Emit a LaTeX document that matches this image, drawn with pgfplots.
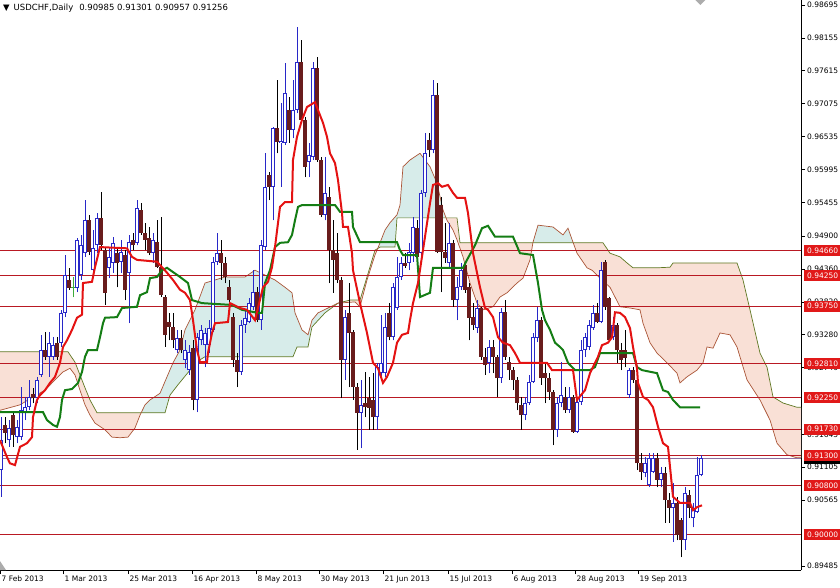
\documentclass[border=0pt]{standalone}
\usepackage{pgfplots}
\pgfplotsset{compat=1.18}
\usepackage{pgfplotstable}
\usepgfplotslibrary{fillbetween}
\usepackage{fontspec}
\setmainfont{DejaVu Sans}
\definecolor{bullc}{RGB}{40,40,200}
\definecolor{bearc}{RGB}{105,28,28}
\definecolor{tenkc}{RGB}{228,18,18}
\definecolor{kijc}{RGB}{20,125,20}
\definecolor{lvlc}{RGB}{185,25,35}
\definecolor{boxc}{RGB}{225,25,25}
\definecolor{cloudor}{RGB}{249,224,214}
\definecolor{cloudte}{RGB}{215,236,234}
\definecolor{spanbc}{RGB}{95,120,35}
\definecolor{spanac}{RGB}{170,85,55}
\definecolor{bidc}{RGB}{140,110,160}
\definecolor{dojic}{RGB}{60,170,60}

\newcommand{\lb}[2]{{\setlength{\fboxsep}{0pt}\colorbox{#1}{\rule[-2.7bp]{0pt}{11bp}\hspace{3.5bp}\makebox[34bp][l]{\textcolor{white}{#2}}}}}

% bull candles: bar index, open, high, low, close
\pgfplotstableread{
i o h l c
0 0.9106 0.9193 0.9062 0.9155
2 0.9155 0.9188 0.9144 0.9175
4 0.9160 0.9188 0.9150 0.9177
5 0.9160 0.9242 0.9155 0.9204
6 0.9201 0.9226 0.9188 0.9209
7 0.9209 0.9254 0.9204 0.9226
9 0.9224 0.9259 0.9216 0.9254
10 0.9262 0.9328 0.9259 0.9303
12 0.9292 0.9333 0.9259 0.9315
13 0.9292 0.9324 0.9287 0.9311
15 0.9315 0.9369 0.9308 0.9364
16 0.9364 0.9459 0.9357 0.9426
19 0.9405 0.9487 0.9398 0.9484
20 0.9426 0.9492 0.9418 0.9475
21 0.9462 0.9549 0.9456 0.9516
23 0.9434 0.9500 0.9426 0.9470
24 0.9475 0.9528 0.9462 0.9520
27 0.9438 0.9472 0.9421 0.9456
28 0.9446 0.9489 0.9430 0.9479
30 0.9448 0.9484 0.9430 0.9464
32 0.9430 0.9492 0.9347 0.9480
34 0.9479 0.9549 0.9475 0.9536
38 0.9462 0.9495 0.9446 0.9484
44 0.9303 0.9336 0.9298 0.9323
46 0.9287 0.9319 0.9273 0.9303
47 0.9270 0.9311 0.9262 0.9300
49 0.9221 0.9331 0.9201 0.9324
50 0.9319 0.9344 0.9311 0.9336
51 0.9311 0.9339 0.9275 0.9331
52 0.9311 0.9352 0.9298 0.9339
53 0.9336 0.9456 0.9333 0.9448
54 0.9448 0.9495 0.9443 0.9462
60 0.9267 0.9352 0.9262 0.9344
61 0.9344 0.9369 0.9331 0.9356
62 0.9349 0.9388 0.9347 0.9380
63 0.9374 0.9434 0.9369 0.9398
65 0.9352 0.9484 0.9336 0.9475
66 0.9472 0.9626 0.9467 0.9571
68 0.9571 0.9669 0.9516 0.9668
70 0.9643 0.9709 0.9571 0.9646
71 0.9643 0.9774 0.9640 0.9725
73 0.9664 0.9746 0.9651 0.9697
74 0.9697 0.9833 0.9692 0.9776
77 0.9612 0.9643 0.9587 0.9623
78 0.9620 0.9776 0.9615 0.9766
81 0.9525 0.9620 0.9516 0.9561
86 0.9287 0.9369 0.9254 0.9357
90 0.9200 0.9254 0.9142 0.9213
94 0.9193 0.9282 0.9172 0.9275
95 0.9265 0.9361 0.9259 0.9282
96 0.9265 0.9364 0.9259 0.9341
98 0.9324 0.9413 0.9319 0.9406
99 0.9372 0.9456 0.9369 0.9423
100 0.9423 0.9456 0.9418 0.9446
102 0.9446 0.9479 0.9434 0.9464
103 0.9462 0.9521 0.9448 0.9505
105 0.9462 0.9566 0.9456 0.9561
106 0.9561 0.9659 0.9554 0.9626
108 0.9631 0.9746 0.9626 0.9722
112 0.9446 0.9512 0.9439 0.9479
114 0.9385 0.9423 0.9352 0.9406
115 0.9406 0.9446 0.9402 0.9434
119 0.9339 0.9385 0.9331 0.9372
122 0.9282 0.9319 0.9265 0.9308
125 0.9257 0.9372 0.9249 0.9365
131 0.9196 0.9226 0.9188 0.9216
132 0.9216 0.9262 0.9213 0.9250
133 0.9250 0.9331 0.9249 0.9324
134 0.9323 0.9374 0.9316 0.9352
139 0.9172 0.9226 0.9160 0.9216
140 0.9216 0.9283 0.9209 0.9229
142 0.9204 0.9242 0.9200 0.9226
144 0.9168 0.9226 0.9167 0.9218
145 0.9218 0.9319 0.9213 0.9303
146 0.9303 0.9331 0.9292 0.9324
147 0.9308 0.9352 0.9303 0.9344
148 0.9339 0.9377 0.9336 0.9364
150 0.9349 0.9448 0.9347 0.9434
153 0.9324 0.9357 0.9319 0.9344
157 0.9229 0.9273 0.9224 0.9270
161 0.9101 0.9127 0.9094 0.9117
162 0.9081 0.9134 0.9078 0.9126
163 0.9103 0.9134 0.9101 0.9126
165 0.9090 0.9111 0.9078 0.9101
168 0.9044 0.9085 0.8988 0.9052
171 0.8991 0.9078 0.8975 0.9068
173 0.9027 0.9052 0.9012 0.9044
174 0.9037 0.9127 0.9035 0.9098
175 0.90985 0.91301 0.90957 0.91256
}\bulltab

% bear candles
\pgfplotstableread{
i o h l c
1 0.9180 0.9193 0.9150 0.9167
3 0.9196 0.9200 0.9144 0.9163
8 0.9231 0.9241 0.9216 0.9224
11 0.9303 0.9333 0.9287 0.9292
14 0.9315 0.9324 0.9287 0.9292
17 0.9418 0.9438 0.9402 0.9405
22 0.9516 0.9525 0.9459 0.9464
25 0.9520 0.9562 0.9467 0.9475
26 0.9467 0.9470 0.9377 0.9397
29 0.9462 0.9472 0.9406 0.9446
31 0.9459 0.9467 0.9385 0.9402
33 0.9484 0.9495 0.9467 0.9475
35 0.9533 0.9544 0.9492 0.9495
36 0.9495 0.9512 0.9467 0.9484
37 0.9487 0.9505 0.9459 0.9462
39 0.9480 0.9516 0.9438 0.9439
40 0.9439 0.9521 0.9390 0.9393
41 0.9390 0.9393 0.9308 0.9328
42 0.9349 0.9364 0.9319 0.9341
43 0.9341 0.9364 0.9306 0.9319
45 0.9323 0.9336 0.9298 0.9303
48 0.9306 0.9319 0.9204 0.9221
55 0.9462 0.9484 0.9418 0.9446
56 0.9446 0.9456 0.9413 0.9423
57 0.9406 0.9418 0.9369 0.9385
58 0.9357 0.9364 0.9275 0.9287
59 0.9287 0.9298 0.9242 0.9267
64 0.9398 0.9406 0.9349 0.9352
67 0.9590 0.9595 0.9549 0.9571
69 0.9668 0.9746 0.9626 0.9645
72 0.9697 0.9718 0.9643 0.9664
75 0.9776 0.9812 0.9677 0.9681
76 0.9681 0.9686 0.9587 0.9604
79 0.9766 0.9784 0.9612 0.9615
80 0.9615 0.9620 0.9521 0.9525
82 0.9554 0.9571 0.9413 0.9467
83 0.9467 0.9516 0.9397 0.9451
84 0.9462 0.9495 0.9413 0.9418
85 0.9418 0.9423 0.9224 0.9287
87 0.9364 0.9413 0.9242 0.9331
88 0.9333 0.9336 0.9221 0.9242
89 0.9242 0.9249 0.9139 0.9200
91 0.9216 0.9267 0.9193 0.9209
92 0.9224 0.9259 0.9172 0.9208
93 0.9221 0.9265 0.9172 0.9193
97 0.9364 0.9380 0.9319 0.9324
101 0.9446 0.9462 0.9438 0.9441
104 0.9503 0.9516 0.9454 0.9456
107 0.9648 0.9659 0.9620 0.9631
109 0.9722 0.9741 0.9462 0.9464
110 0.9541 0.9554 0.9398 0.9464
111 0.9464 0.9512 0.9446 0.9454
113 0.9479 0.9484 0.9374 0.9385
116 0.9443 0.9446 0.9397 0.9402
117 0.9406 0.9413 0.9319 0.9356
118 0.9357 0.9380 0.9336 0.9344
120 0.9372 0.9374 0.9287 0.9292
121 0.9292 0.9306 0.9262 0.9278
123 0.9308 0.9319 0.9265 0.9292
124 0.9292 0.9295 0.9226 0.9257
126 0.9365 0.9385 0.9287 0.9292
127 0.9283 0.9292 0.9254 0.9270
128 0.9270 0.9275 0.9237 0.9254
129 0.9254 0.9259 0.9204 0.9216
130 0.9213 0.9226 0.9172 0.9196
135 0.9352 0.9357 0.9246 0.9257
136 0.9265 0.9282 0.9216 0.9257
137 0.9257 0.9265 0.9221 0.9234
138 0.9234 0.9237 0.9147 0.9172
141 0.9226 0.9242 0.9200 0.9204
143 0.9226 0.9229 0.9167 0.9168
149 0.9364 0.9380 0.9347 0.9349
151 0.9448 0.9451 0.9369 0.9374
152 0.9388 0.9390 0.9316 0.9319
154 0.9344 0.9347 0.9282 0.9303
155 0.9303 0.9315 0.9270 0.9287
156 0.9303 0.9336 0.9275 0.9290
158 0.9270 0.9275 0.9249 0.9254
159 0.9254 0.9259 0.9106 0.9117
160 0.9117 0.9134 0.9090 0.9103
164 0.9126 0.9134 0.9078 0.9090
166 0.9101 0.9111 0.9019 0.9057
167 0.9057 0.9068 0.9019 0.9044
169 0.9052 0.9062 0.8991 0.8999
170 0.9024 0.9027 0.8963 0.8991
172 0.9065 0.9073 0.9027 0.9044
}\beartab

% doji
\pgfplotstableread{
i o h l c
18 0.9405 0.9423 0.9390 0.9406
}\dojitab

\pgfplotsset{candle/.style={only marks, mark=none, mark size=0pt, mark options={draw=none, fill=none}, forget plot}}

\begin{document}
\begin{tikzpicture}
\begin{axis}[
  at={(0,0)}, anchor=north west,
  scale only axis, width=801bp, height=570bp,
  xmin=-0.25, xmax=200, ymin=0.89418, ymax=0.98777,
  axis x line*=bottom, axis y line*=right,
  axis line style={-, black, line width=0.8bp},
  tick align=outside, major tick length=4bp,
  tick style={black, line width=0.6bp},
  tick label style={font=\fontsize{7.5bp}{9bp}\selectfont},
  xtick={-0.25,15.5,31.75,47.75,63.75,79.5,95.5,111.75,127.75,143.5,159.25},
  xticklabels={7 Feb 2013,1 Mar 2013,25 Mar 2013,16 Apr 2013,8 May 2013,30 May 2013,21 Jun 2013,15 Jul 2013,6 Aug 2013,28 Aug 2013,19 Sep 2013},
  xticklabel style={anchor=north west, inner sep=0pt, xshift=1.5bp, yshift=-2bp},
  ytick={0.98695,0.98155,0.97615,0.97075,0.96535,0.95995,0.95455,0.94900,0.94360,0.93820,0.93280,0.92740,0.91645,0.91105,0.90565,0.89485},
  yticklabels={0.98695,0.98155,0.97615,0.97075,0.96535,0.95995,0.95455,0.94900,0.94360,0.93820,0.93280,0.92740,0.91645,0.91105,0.90565,0.89485},
  yticklabel style={anchor=west, inner sep=0pt, xshift=2bp},
  extra y ticks={0.91256,0.9466,0.9425,0.9375,0.9281,0.9225,0.9173,0.9130,0.9080,0.9000},
  extra y tick labels={\lb{black}{\phantom{0.91256}},\lb{boxc}{0.94660},\lb{boxc}{0.94250},\lb{boxc}{0.93750},\lb{boxc}{0.92810},\lb{boxc}{0.92250},\lb{boxc}{0.91730},\lb{boxc}{0.91300},\lb{boxc}{0.90800},\lb{boxc}{0.90000}},
  extra y tick style={major tick length=0pt, yticklabel style={anchor=west, inner sep=0pt, xshift=0.5bp}},
  title={\fontsize{8.5bp}{10bp}\selectfont ▼\hspace{4bp}USDCHF,Daily\hspace{6bp}0.90985 0.91301 0.90957 0.91256},
  title style={at={(axis description cs:0,1)}, anchor=north west, inner sep=0pt, xshift=3bp, yshift=-9.5bp},
  clip=true,
]
% Ichimoku cloud: Senkou span B (flat steps) and span A
\addplot[name path=spanB, draw=none, forget plot] coordinates {
(-0.25,0.9300)(16.75,0.9300)(18.5,0.9283)(19.75,0.9262)(21,0.9241)(22.25,0.9221)(24,0.9200)(41,0.9200)(42.25,0.9229)(44.25,0.9246)(47.25,0.9270)(49.75,0.9287)(51,0.9292)(73,0.9292)(74,0.9308)(76.75,0.9308)(77.75,0.9341)(81,0.9364)(84.25,0.9380)(87.25,0.9385)(89.75,0.9385)(91.5,0.9423)(93.5,0.9467)(94.75,0.9472)(98.5,0.9472)(99,0.9520)(114,0.9520)(114.75,0.9479)(150.5,0.9479)(152.25,0.9462)(154.75,0.9456)(156.5,0.9446)(158,0.9438)(164,0.9438)(167.25,0.9439)(168,0.9446)(184,0.9446)(185.5,0.9418)(187.25,0.9369)(189.75,0.9298)(191.5,0.9275)(193,0.9226)(195.5,0.9216)(199,0.9209)(200,0.9209)};
\addplot[name path=spanA, draw=none, forget plot] coordinates {
(-0.25,0.9204)(4.75,0.9213)(8,0.9226)(11,0.9237)(13.5,0.9254)(15.5,0.9267)(17.25,0.9273)(18.5,0.9262)(19.75,0.9237)(21,0.9213)(22.25,0.9196)(23.5,0.9183)(26,0.9172)(27.75,0.9160)(29.75,0.9159)(31.75,0.9160)(33.5,0.9175)(34.75,0.9196)(36,0.9213)(37.25,0.9221)(39.75,0.9232)(41.5,0.9259)(43,0.9282)(44.75,0.9303)(46,0.9336)(48.5,0.9369)(51,0.9413)(56,0.9423)(61,0.9423)(63.5,0.9434)(68.5,0.9418)(71,0.9406)(72.75,0.9397)(73.5,0.9364)(75.25,0.9336)(76.75,0.9328)(77.75,0.9352)(79.25,0.9364)(84.25,0.9380)(88.5,0.9382)(89.75,0.9374)(91.5,0.9418)(93.5,0.9459)(94.75,0.9479)(96,0.9500)(97.25,0.9512)(99,0.9525)(99.75,0.9541)(100.5,0.9604)(102.25,0.9615)(104.75,0.9626)(107.25,0.9604)(109,0.9577)(110.5,0.9533)(111.5,0.9516)(113,0.9500)(114,0.9484)(115.5,0.9456)(117.25,0.9413)(119,0.9380)(120.5,0.9369)(123,0.9374)(124.75,0.9390)(126.5,0.9397)(129,0.9413)(130.5,0.9421)(132.25,0.9451)(133,0.9480)(134.25,0.9508)(138,0.9505)(140.5,0.9492)(141.75,0.9503)(143,0.9480)(144,0.9462)(146.5,0.9438)(147.75,0.9434)(149.75,0.9421)(152.25,0.9406)(154.75,0.9374)(157.25,0.9372)(159.75,0.9369)(160.5,0.9347)(162.25,0.9315)(164,0.9298)(166.5,0.9282)(169,0.9265)(169.75,0.9249)(171.5,0.9259)(174,0.9270)(175.5,0.9282)(176.5,0.9308)(178,0.9306)(179.75,0.9331)(182.25,0.9328)(184,0.9308)(186.5,0.9254)(189.75,0.9221)(192.25,0.9188)(194,0.9150)(196.5,0.9131)(199,0.9126)(200,0.9126)};
\addplot[fill=cloudor, draw=none] fill between[of=spanB and spanA, soft clip={domain=-0.25:35}];
\addplot[fill=cloudte, draw=none] fill between[of=spanB and spanA, soft clip={domain=35:84.25}];
\addplot[fill=cloudor, draw=none] fill between[of=spanB and spanA, soft clip={domain=84.25:94}];
\addplot[fill=cloudte, draw=none] fill between[of=spanB and spanA, soft clip={domain=94:111}];
\addplot[fill=cloudor, draw=none] fill between[of=spanB and spanA, soft clip={domain=111:133}];
\addplot[fill=cloudte, draw=none] fill between[of=spanB and spanA, soft clip={domain=133:143}];
\addplot[fill=cloudor, draw=none] fill between[of=spanB and spanA, soft clip={domain=143:200}];
% span lines drawn over the fill
\addplot[spanbc, line width=0.7bp, forget plot] coordinates {
(-0.25,0.9300)(16.75,0.9300)(18.5,0.9283)(19.75,0.9262)(21,0.9241)(22.25,0.9221)(24,0.9200)(41,0.9200)(42.25,0.9229)(44.25,0.9246)(47.25,0.9270)(49.75,0.9287)(51,0.9292)(73,0.9292)(74,0.9308)(76.75,0.9308)(77.75,0.9341)(81,0.9364)(84.25,0.9380)(87.25,0.9385)(89.75,0.9385)(91.5,0.9423)(93.5,0.9467)(94.75,0.9472)(98.5,0.9472)(99,0.9520)(114,0.9520)(114.75,0.9479)(150.5,0.9479)(152.25,0.9462)(154.75,0.9456)(156.5,0.9446)(158,0.9438)(164,0.9438)(167.25,0.9439)(168,0.9446)(184,0.9446)(185.5,0.9418)(187.25,0.9369)(189.75,0.9298)(191.5,0.9275)(193,0.9226)(195.5,0.9216)(199,0.9209)(200,0.9209)};
\addplot[spanac, line width=0.7bp, forget plot] coordinates {
(-0.25,0.9204)(4.75,0.9213)(8,0.9226)(11,0.9237)(13.5,0.9254)(15.5,0.9267)(17.25,0.9273)(18.5,0.9262)(19.75,0.9237)(21,0.9213)(22.25,0.9196)(23.5,0.9183)(26,0.9172)(27.75,0.9160)(29.75,0.9159)(31.75,0.9160)(33.5,0.9175)(34.75,0.9196)(36,0.9213)(37.25,0.9221)(39.75,0.9232)(41.5,0.9259)(43,0.9282)(44.75,0.9303)(46,0.9336)(48.5,0.9369)(51,0.9413)(56,0.9423)(61,0.9423)(63.5,0.9434)(68.5,0.9418)(71,0.9406)(72.75,0.9397)(73.5,0.9364)(75.25,0.9336)(76.75,0.9328)(77.75,0.9352)(79.25,0.9364)(84.25,0.9380)(88.5,0.9382)(89.75,0.9374)(91.5,0.9418)(93.5,0.9459)(94.75,0.9479)(96,0.9500)(97.25,0.9512)(99,0.9525)(99.75,0.9541)(100.5,0.9604)(102.25,0.9615)(104.75,0.9626)(107.25,0.9604)(109,0.9577)(110.5,0.9533)(111.5,0.9516)(113,0.9500)(114,0.9484)(115.5,0.9456)(117.25,0.9413)(119,0.9380)(120.5,0.9369)(123,0.9374)(124.75,0.9390)(126.5,0.9397)(129,0.9413)(130.5,0.9421)(132.25,0.9451)(133,0.9480)(134.25,0.9508)(138,0.9505)(140.5,0.9492)(141.75,0.9503)(143,0.9480)(144,0.9462)(146.5,0.9438)(147.75,0.9434)(149.75,0.9421)(152.25,0.9406)(154.75,0.9374)(157.25,0.9372)(159.75,0.9369)(160.5,0.9347)(162.25,0.9315)(164,0.9298)(166.5,0.9282)(169,0.9265)(169.75,0.9249)(171.5,0.9259)(174,0.9270)(175.5,0.9282)(176.5,0.9308)(178,0.9306)(179.75,0.9331)(182.25,0.9328)(184,0.9308)(186.5,0.9254)(189.75,0.9221)(192.25,0.9188)(194,0.9150)(196.5,0.9131)(199,0.9126)(200,0.9126)};

% horizontal levels
\addplot[lvlc, line width=0.9bp] coordinates {(-0.25,0.9466)(200,0.9466)};
\addplot[lvlc, line width=0.9bp] coordinates {(-0.25,0.9425)(200,0.9425)};
\addplot[lvlc, line width=0.9bp] coordinates {(-0.25,0.9375)(200,0.9375)};
\addplot[lvlc, line width=0.9bp] coordinates {(-0.25,0.9281)(200,0.9281)};
\addplot[lvlc, line width=0.9bp] coordinates {(-0.25,0.9225)(200,0.9225)};
\addplot[lvlc, line width=0.9bp] coordinates {(-0.25,0.9173)(200,0.9173)};
\addplot[lvlc, line width=0.9bp] coordinates {(-0.25,0.9130)(200,0.9130)};
\addplot[lvlc, line width=0.9bp] coordinates {(-0.25,0.9080)(200,0.9080)};
\addplot[lvlc, line width=0.9bp] coordinates {(-0.25,0.9000)(200,0.9000)};
\addplot[bidc, line width=0.6bp] coordinates {(-0.25,0.91256)(200,0.91256)};

% candles: wicks
\addplot[candle, error bars/.cd, y dir=plus, y explicit, error mark=none,
  error bar style={line width=1bp, bullc}] table[x=i, y=l, y error plus expr=\thisrow{h}-\thisrow{l}] {\bulltab};
\addplot[candle, error bars/.cd, y dir=plus, y explicit, error mark=none,
  error bar style={line width=1bp, black}] table[x=i, y=l, y error plus expr=\thisrow{h}-\thisrow{l}] {\beartab};
\addplot[candle, error bars/.cd, y dir=plus, y explicit, error mark=none,
  error bar style={line width=1bp, dojic}] table[x=i, y=l, y error plus expr=\thisrow{h}-\thisrow{l}] {\dojitab};
% candles: bodies
\addplot[candle, error bars/.cd, y dir=plus, y explicit, error mark=none,
  error bar style={line width=3.2bp, bullc}] table[x=i, y=o, y error plus expr=\thisrow{c}-\thisrow{o}] {\bulltab};
\addplot[candle, error bars/.cd, y dir=plus, y explicit, error mark=none,
  error bar style={line width=1.2bp, white, shorten <=1bp, shorten >=1bp}] table[x=i, y=o, y error plus expr=\thisrow{c}-\thisrow{o}] {\bulltab};
\addplot[candle, error bars/.cd, y dir=plus, y explicit, error mark=none,
  error bar style={line width=3.2bp, bearc}] table[x=i, y=c, y error plus expr=\thisrow{o}-\thisrow{c}] {\beartab};
\addplot[candle, error bars/.cd, y dir=plus, y explicit, error mark=none,
  error bar style={line width=3.2bp, dojic}] table[x=i, y=o, y error plus expr=\thisrow{c}-\thisrow{o}] {\dojitab};

% Kijun-sen
\addplot[kijc, line width=2bp] coordinates {
(-0.25,0.9201)(10.5,0.9201)(11.5,0.9188)(13,0.9180)(14,0.9177)(14.75,0.9193)(15.25,0.9221)(16,0.9237)(17.75,0.9239)(19.25,0.9249)(20.25,0.9267)(21,0.9292)(21.75,0.9303)(24,0.9303)(24.75,0.9324)(25.5,0.9347)(26,0.9356)(29,0.9357)(30.25,0.9372)(34,0.9374)(34.75,0.9393)(36.5,0.9398)(37.25,0.9421)(39,0.9423)(40.25,0.9434)(41.5,0.9438)(43,0.9431)(44.75,0.9423)(46.75,0.9413)(47.75,0.9385)(50.25,0.9380)(57.75,0.9377)(60.25,0.9369)(64.25,0.9364)(65.25,0.9364)(66,0.9413)(67.25,0.9434)(68.5,0.9472)(69.75,0.9479)(71.75,0.9480)(72.75,0.9492)(73.5,0.9516)(74.25,0.9538)(75.25,0.9541)(83.5,0.9541)(84.75,0.9530)(87.75,0.9530)(88,0.9505)(89.75,0.9480)(99,0.9480)(99.75,0.9467)(100.5,0.9459)(104,0.9459)(104.75,0.9390)(107.25,0.9397)(108,0.9438)(115.5,0.9438)(116.5,0.9451)(118.5,0.9475)(120.25,0.9503)(121.75,0.9507)(123.5,0.9489)(128,0.9489)(129.75,0.9462)(133,0.9459)(134.25,0.9413)(135.25,0.9369)(136,0.9352)(137.25,0.9336)(138.5,0.9315)(139.75,0.9308)(140.5,0.9303)(141.75,0.9282)(143.5,0.9270)(147.25,0.9270)(148.5,0.9275)(149.75,0.9298)(158,0.9298)(159,0.9275)(160.25,0.9270)(164,0.9265)(165.5,0.9237)(166.75,0.9234)(168,0.9221)(169.75,0.9209)(174.75,0.9209)};
% Tenkan-sen
\addplot[tenkc, line width=2bp] coordinates {
(-0.25,0.9155)(1.5,0.9127)(2.25,0.9117)(3.5,0.9114)(4.75,0.9144)(6.5,0.9150)(7.75,0.9160)(8,0.9193)(9,0.9221)(9.75,0.9229)(11,0.9237)(12.25,0.9249)(13.5,0.9259)(14.75,0.9282)(15.5,0.9308)(16.5,0.9319)(17.75,0.9336)(19,0.9356)(20.25,0.9361)(20.5,0.9413)(22.75,0.9415)(23.5,0.9439)(24.75,0.9472)(31.5,0.9470)(32.75,0.9456)(34,0.9451)(39,0.9448)(40.25,0.9439)(41.5,0.9430)(43,0.9418)(44.75,0.9402)(46,0.9397)(47.25,0.9385)(48,0.9352)(49,0.9303)(49.75,0.9283)(51.5,0.9283)(51.75,0.9298)(52.75,0.9331)(53.5,0.9347)(56.75,0.9349)(57.25,0.9380)(59.75,0.9372)(61.5,0.9369)(63.5,0.9352)(65.5,0.9406)(66.75,0.9415)(67.75,0.9439)(68.5,0.9472)(69.75,0.9538)(71,0.9546)(72.75,0.9546)(73,0.9615)(74,0.9653)(75.25,0.9681)(76.5,0.9702)(78.5,0.9710)(79.25,0.9697)(80.5,0.9676)(81.5,0.9653)(82.25,0.9626)(83.5,0.9610)(84.25,0.9582)(85.25,0.9528)(85.5,0.9505)(86.75,0.9505)(87.75,0.9462)(88,0.9434)(89.75,0.9380)(91.5,0.9331)(93,0.9282)(94.25,0.9273)(95.5,0.9249)(96.5,0.9259)(98,0.9282)(99,0.9315)(100.25,0.9328)(101.75,0.9331)(102.25,0.9352)(103,0.9380)(104.25,0.9413)(106,0.9489)(107.25,0.9544)(108,0.9574)(109.25,0.9577)(110.25,0.9571)(111.75,0.9574)(113,0.9561)(114,0.9553)(116,0.9553)(116.75,0.9528)(118,0.9462)(119.75,0.9406)(121,0.9372)(121.75,0.9369)(123,0.9357)(124.25,0.9324)(125.5,0.9315)(127.25,0.9311)(128.5,0.9298)(129.75,0.9282)(136.5,0.9282)(137.75,0.9270)(143,0.9270)(144,0.9221)(146,0.9237)(147.25,0.9265)(149.25,0.9292)(150.25,0.9311)(151.75,0.9315)(152.75,0.9324)(153.5,0.9365)(154.75,0.9364)(156,0.9357)(157.25,0.9339)(158,0.9308)(159,0.9273)(159.25,0.9249)(160.5,0.9226)(161.75,0.9221)(163,0.9209)(164.25,0.9177)(165.5,0.9150)(166.75,0.9144)(168,0.9062)(169.75,0.9052)(172.25,0.9052)(173,0.9040)(174,0.9045)(175.25,0.9048)};

% chart shift markers
\fill[gray!65] (rel axis cs:0,0) -- ++(0bp,9bp) -- ++(6bp,-9bp) -- cycle;
\fill[gray!65] (rel axis cs:0.868,1) -- ++(10bp,0bp) -- ++(-5bp,-5bp) -- cycle;
\end{axis}
\pgfresetboundingbox
\path[use as bounding box] (0,0) rectangle (840bp,-588bp);
\end{tikzpicture}
\end{document}
